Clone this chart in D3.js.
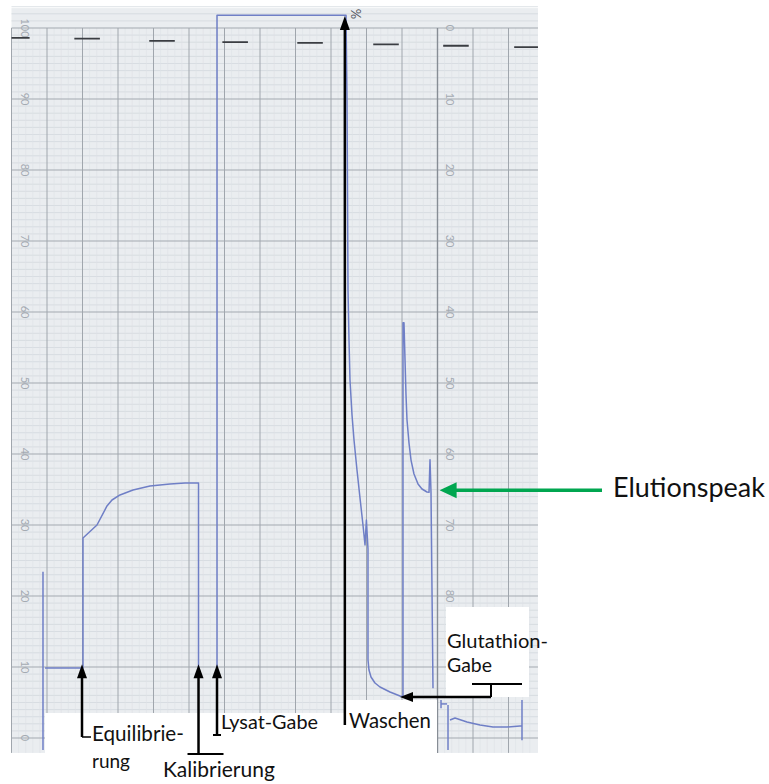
<!DOCTYPE html>
<html><head><meta charset="utf-8">
<script src="https://cdn.jsdelivr.net/npm/d3@7"></script>
<style>body{margin:0;background:#fff}svg{display:block}</style>
</head><body>
<svg id="chart" width="769" height="784"></svg>
<script>
// ---------- data (time in chart divisions, signal in % of full scale) ----------
const leftScaleTicks  = [0,10,20,30,40,50,60,70,80,90,100];
const rightScaleTicks = [0,10,20,30,40,50,60,70,80];          // reversed scale on the paper
const timeDivisions   = d3.range(0, 15);
const timerMarkTimes  = [0.15, 2.13, 4.24, 6.30, 8.41, 10.55, 12.52, 14.52];
const timerMarkLevels = [98.6, 98.5, 98.2, 98.0, 97.9, 97.7, 97.5, 97.3];

const traceStart = [[0.887,-1.7],[0.887,23.4]];
const traceEquilibration = [
  [0.944,9.86],[1.958,9.86],[2.014,9.86],[2.014,28.17],[2.408,30.0],[2.690,32.68],
  [2.831,33.52],[3.056,34.23],[3.423,34.93],[3.901,35.49],[4.465,35.77],[4.887,35.92],
  [5.268,35.92],[5.268,9.86]
];
const traceLoadWashElution = [
  [5.789,9.86],[5.789,101.8],[9.423,101.8],[9.451,89.9],[9.479,63.1],[9.507,56.06],
  [9.535,50.42],[9.592,45.49],[9.648,41.97],[9.732,37.75],[9.817,33.80],[9.901,30.0],
  [9.958,27.18],[9.997,30.7],[10.042,26.6],[10.042,11.0],[10.070,9.58],[10.127,8.59],
  [10.239,7.75],[10.380,7.18],[10.662,6.48],[10.944,5.92],[11.028,5.8],[11.028,58.5],
  [11.056,58.5],[11.085,53.24],[11.113,48.31],[11.141,44.79],[11.197,41.55],[11.254,39.15],
  [11.338,37.18],[11.451,35.77],[11.563,35.07],[11.704,34.65],[11.761,34.6],[11.789,39.2],
  [11.817,34.6],[11.873,7.0]
];
const traceTick = [[12.099,5.35],[12.099,4.2]];
const traceTickBar = [[12.099,4.8],[12.27,4.8]];
const traceEndDrop = [[12.296,4.65],[12.296,-1.7]];
const traceEnd = [
  [12.352,2.54],[12.493,2.82],[12.831,2.25],[13.197,1.83],[13.563,1.55],
  [13.958,1.55],[14.324,1.69],[14.380,1.69]
];
const traceEndRise = [[14.380,5.35],[14.380,-0.3]];

const annotationLabels = ["Equilibrie-","rung","Kalibrierung","Lysat-Gabe","Waschen","Glutathion-","Gabe","Elutionspeak"];
const eventTimes = {equilibration:1.986, calibration:5.268, lysate:5.789, wash:9.39, glutathion:10.944, elution:11.89};
const eventLevels = {base:10.1, elution:34.9};

// ---------- scales ----------
const x = d3.scaleLinear().domain([0,14]).range([11.5,508.5]);
const y = d3.scaleLinear().domain([0,100]).range([738,28]);
const svg = d3.select("#chart");
const font = "Lato, 'Open Sans', sans-serif";

// paper
const paperL = x(0), paperR = x(14.83), paperT = y(102.8), paperB = y(-2.1);
svg.append("rect").attr("x",paperL).attr("y",paperT).attr("width",paperR-paperL).attr("height",paperB-paperT).attr("fill","#eaedf0");

const grid = svg.append("g");
d3.range(0,105,1).forEach(v=>{
  if (v%10===0) return;
  grid.append("line").attr("x1",paperL).attr("x2",paperR).attr("y1",y(v)).attr("y2",y(v))
    .attr("stroke","#d0d5db").attr("stroke-width",0.7);
});
d3.range(0,14.8,0.2).forEach(t=>{
  if (Math.abs(t-Math.round(t))<1e-6) return;
  grid.append("line").attr("x1",x(t)).attr("x2",x(t)).attr("y1",y(100)).attr("y2",paperB)
    .attr("stroke","#dde1e5").attr("stroke-width",0.6);
});
leftScaleTicks.forEach(v=>{
  grid.append("line").attr("x1",paperL).attr("x2",paperR).attr("y1",y(v)).attr("y2",y(v))
    .attr("stroke","#a3a9b0").attr("stroke-width",1);
});
timeDivisions.forEach(t=>{
  grid.append("line").attr("x1",x(t)).attr("x2",x(t)).attr("y1",y(100)).attr("y2",paperB)
    .attr("stroke", t===12 ? "#878d95" : "#a0a6ad").attr("stroke-width", t===12?1.4:1);
});

leftScaleTicks.forEach(v=>{
  svg.append("text").attr("transform",`translate(25,${y(v)}) rotate(90)`)
    .attr("text-anchor","middle").attr("dominant-baseline","central")
    .attr("font-family",font).attr("font-size",11).attr("fill","#a4aab2").text(v);
});
rightScaleTicks.forEach(r=>{
  svg.append("text").attr("transform",`translate(450,${y(100-r)}) rotate(90)`)
    .attr("text-anchor","middle").attr("dominant-baseline","central")
    .attr("font-family",font).attr("font-size",11).attr("fill","#a4aab2").text(r);
});

svg.append("clipPath").attr("id","paperClip").append("rect")
  .attr("x",paperL).attr("y",paperT).attr("width",paperR-paperL).attr("height",paperB-paperT);
const marks = svg.append("g").attr("clip-path","url(#paperClip)");
timerMarkTimes.forEach((t,i)=>{
  marks.append("line").attr("x1",x(t-0.36)).attr("x2",x(t+0.36))
    .attr("y1",y(timerMarkLevels[i])).attr("y2",y(timerMarkLevels[i]))
    .attr("stroke","#3a3d42").attr("stroke-width",1.8);
});

const line = d3.line().x(d=>x(d[0])).y(d=>y(d[1]));
[traceStart, traceEquilibration, traceLoadWashElution, traceTick, traceTickBar, traceEndDrop, traceEnd, traceEndRise]
  .forEach(seg=>{
    svg.append("path").attr("d",line(seg)).attr("fill","none")
      .attr("stroke","#6f7fc6").attr("stroke-width",1.5).attr("stroke-linejoin","round");
  });

const cover = [[45,713,300,71],[345,700,92,84],[446,607,83,90],[12,753,530,31]];
cover.forEach(c=>svg.append("rect").attr("x",c[0]).attr("y",c[1]).attr("width",c[2]).attr("height",c[3]).attr("fill","#fff"));

svg.append("text").attr("transform","translate(356,14) rotate(90)").attr("text-anchor","middle")
  .attr("dominant-baseline","central").attr("font-family",font).attr("font-size",13)
  .attr("fill","#55585e").text("%");

// ---------- annotations ----------
const ann = svg.append("g");
function upArrow(px, tipY, botY, color, w){
  ann.append("line").attr("x1",px).attr("x2",px).attr("y1",tipY+10).attr("y2",botY)
    .attr("stroke",color).attr("stroke-width",w);
  ann.append("path").attr("d",`M${px},${tipY} L${px-5},${tipY+14} L${px+5},${tipY+14} Z`).attr("fill",color);
}
function hline(x1,x2,yy,w){ ann.append("line").attr("x1",x1).attr("x2",x2).attr("y1",yy).attr("y2",yy).attr("stroke","#000").attr("stroke-width",w||2); }
function label(txt, lx, by, size, target){
  const t = ann.append("text").attr("x",lx).attr("y",by).attr("font-family",font)
    .attr("font-size",size).attr("fill","#111").text(txt);
  const w = t.node().getComputedTextLength();
  if (target && w>0) t.attr("font-size", size*target/w);
  return t;
}
const tipBase = y(eventLevels.base) - 2;
const xe = x(eventTimes.equilibration);
upArrow(xe, tipBase, 737, "#000", 2.5); hline(xe, xe+9, 737, 1.5);
label(annotationLabels[0], 92, 741, 22, 92);
label(annotationLabels[1], 92, 768, 22, 38);
const xk = x(eventTimes.calibration);
upArrow(xk, tipBase, 754, "#000", 2.5); hline(xk-11, xk+25, 754, 2);
label(annotationLabels[2], 163, 777, 22, 112);
const xl = x(eventTimes.lysate);
upArrow(xl, tipBase, 735, "#000", 2.5); hline(xl-4, xl+4, 735, 2);
label(annotationLabels[3], 221, 729, 22, 97);
const xw = x(eventTimes.wash);
upArrow(xw, 16, 725, "#000", 2.5);
label(annotationLabels[4], 349, 728, 22, 82);
const xg = x(eventTimes.glutathion);
hline(472, 522, 684, 2);
ann.append("line").attr("x1",491).attr("x2",491).attr("y1",684).attr("y2",697).attr("stroke","#000").attr("stroke-width",2);
hline(xg+10, 491, 697, 2.5);
ann.append("path").attr("d",`M${xg},697 L${xg+13},692 L${xg+13},702 Z`).attr("fill","#000");
label(annotationLabels[5], 447, 648, 22, 101);
label(annotationLabels[6], 447, 672, 22, 45);
const xel = x(eventTimes.elution) + 6, yel = y(eventLevels.elution);
ann.append("line").attr("x1",xel+14).attr("x2",602).attr("y1",yel).attr("y2",yel).attr("stroke","#00a650").attr("stroke-width",3.5);
ann.append("path").attr("d",`M${xel},${yel} L${xel+17},${yel-8} L${xel+17},${yel+8} Z`).attr("fill","#00a650");
label(annotationLabels[7], 613, 497, 28, 152);
</script>
</body></html>
